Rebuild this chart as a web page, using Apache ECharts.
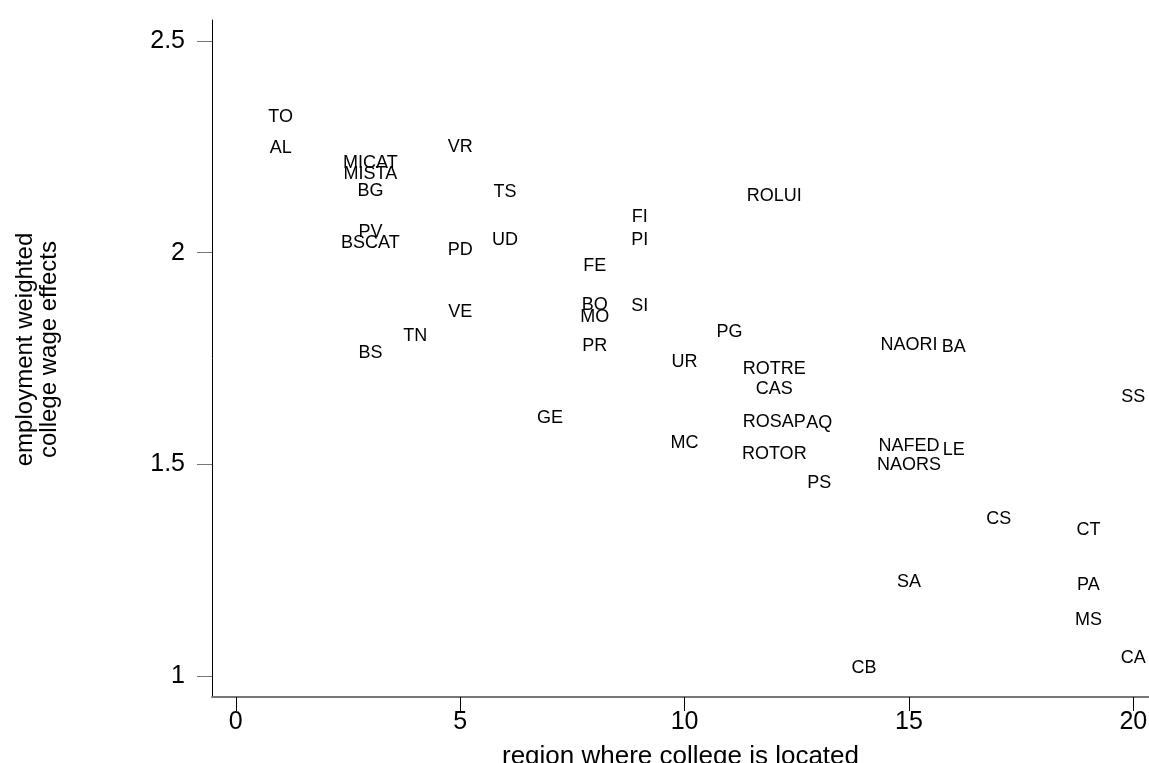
<!DOCTYPE html>
<html>
<head>
<meta charset="utf-8">
<script src="https://cdn.jsdelivr.net/npm/echarts@6/dist/echarts.min.js"></script>
<style>
html,body{margin:0;padding:0;background:#fff;overflow:hidden;}
#chart{width:1149px;height:763px;}
</style>
</head>
<body>
<div id="chart"></div>
<script>
const names = ['TO','AL','VR','MICAT','MISTA','BG','TS','ROLUI','FI','PV','BSCAT','UD','PI','PD','FE','BO','SI','VE','MO','PG','TN','NAORI','PR','BA','BS','UR','ROTRE','CAS','SS','GE','ROSAP','AQ','MC','NAFED','LE','ROTOR','NAORS','PS','CS','CT','SA','PA','MS','CA','CB'];
const regions = [1,1,5,3,3,3,6,12,9,3,3,6,9,5,8,8,9,5,8,11,4,15,8,16,3,10,12,12,20,7,12,13,10,15,16,12,15,13,17,19,15,19,19,20,14];
const effects = [2.321,2.247,2.250,2.212,2.186,2.146,2.143,2.134,2.084,2.049,2.023,2.030,2.030,2.006,1.969,1.876,1.874,1.860,1.848,1.813,1.803,1.782,1.780,1.777,1.763,1.742,1.725,1.678,1.659,1.609,1.600,1.598,1.550,1.543,1.534,1.524,1.498,1.456,1.371,1.345,1.222,1.215,1.132,1.043,1.019];
const xTicks = [0,5,10,15,20];
const yTicks = [1,1.5,2,2.5];

const FONT = '"Liberation Sans", Arial, Helvetica, sans-serif';
const data = names.map((n,i)=>({name:n, value:[regions[i], effects[i]]}));

const chart = echarts.init(document.getElementById('chart'), null, {width:1149, height:763});
chart.setOption({
  backgroundColor:'#ffffff',
  animation:false,
  grid:{left:212, right:0, top:20, bottom:66, containLabel:false, outerBoundsMode:'none'},
  xAxis:{
    type:'value', min:-0.53, max:20.35,
    axisLine:{show:true, onZero:false, lineStyle:{color:'#777777', width:2}},
    axisTick:{show:true, customValues:xTicks, length:14, lineStyle:{color:'#000000', width:1}},
    axisLabel:{customValues:xTicks, fontSize:25, color:'#000000', fontFamily:FONT, margin:13},
    splitLine:{show:false},
    name:'region where college is located', nameLocation:'middle', nameGap:47,
    nameTextStyle:{fontSize:26, color:'#000000', fontFamily:FONT}
  },
  yAxis:{
    type:'value', min:0.95, max:2.55,
    axisLine:{show:true, onZero:false, lineStyle:{color:'#000000', width:1}},
    axisTick:{show:true, customValues:yTicks, length:15, lineStyle:{color:'#777777', width:1}},
    axisLabel:{customValues:yTicks, fontSize:25, color:'#000000', fontFamily:FONT, margin:27},
    splitLine:{show:false},
    name:'employment weighted\ncollege wage effects', nameLocation:'middle', nameRotate:90, nameGap:151,
    nameTextStyle:{fontSize:24, lineHeight:24, color:'#000000', fontFamily:FONT, align:'center', padding:[0,0,0,18]}
  },
  series:[{
    type:'scatter',
    data:data,
    symbolSize:0,
    itemStyle:{color:'rgba(0,0,0,0)', opacity:1},
    silent:true,
    label:{show:true, position:'inside', formatter:'{b}', color:'#000000', opacity:1, fontSize:18, fontFamily:FONT},
    emphasis:{disabled:true}
  }]
});
</script>
</body>
</html>
